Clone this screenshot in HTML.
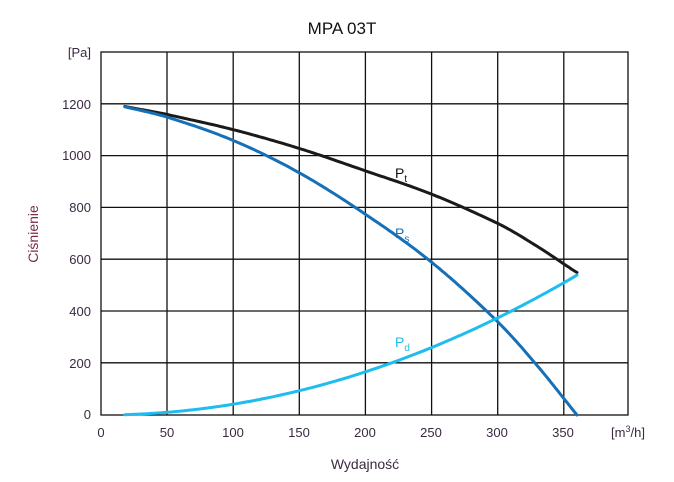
<!DOCTYPE html><html><head><meta charset="utf-8"><style>body{margin:0;background:#fff}svg{display:block}text{font-family:"Liberation Sans",sans-serif}</style></head><body>
<svg width="674" height="482" viewBox="0 0 674 482" xmlns="http://www.w3.org/2000/svg">
<rect width="674" height="482" fill="#fff"/>
<text x="342" y="34" font-size="17" text-anchor="middle" fill="#111">MPA 03T</text>
<g stroke="#111" stroke-width="1.3" fill="none">
<rect x="101" y="52" width="527" height="363"/>
<path d="M167 52V415M233.2 52V415M299.3 52V415M365.4 52V415M431.6 52V415M497.7 52V415M563.8 52V415"/>
<path d="M101 103.8H628M101 155.6H628M101 207.4H628M101 259.2H628M101 311H628M101 362.8H628"/>
</g>
<g font-size="13" fill="#3a2a40" text-anchor="end">
<text x="91" y="57">[Pa]</text>
<text x="91" y="109">1200</text><text x="91" y="160">1000</text><text x="91" y="212">800</text>
<text x="91" y="264">600</text><text x="91" y="316">400</text><text x="91" y="368">200</text><text x="91" y="419">0</text>
</g>
<g font-size="13" fill="#3a2a40" text-anchor="middle">
<text x="101" y="437">0</text><text x="167" y="437">50</text><text x="233" y="437">100</text><text x="299" y="437">150</text>
<text x="365" y="437">200</text><text x="431" y="437">250</text><text x="497" y="437">300</text><text x="563" y="437">350</text>
<text x="628" y="437">[m<tspan font-size="9" dy="-5">3</tspan><tspan dy="5">/h]</tspan></text>
<text x="365" y="469" font-size="14">Wydajność</text>
</g>
<text transform="translate(38,234) rotate(-90)" font-size="14" fill="#7a2a4a" text-anchor="middle">Ciśnienie</text>
<g fill="none" stroke-width="3" stroke-linecap="round">
<path id="pt" stroke="#1a1a1a"/>
<path id="ps" stroke="#1570b8"/>
<path id="pd" stroke="#1fbcf0"/>
</g>
<text x="395" y="178" font-size="14" fill="#111">P<tspan font-size="10" dy="4">t</tspan></text>
<text x="395" y="238" font-size="14" fill="#1570b8">P<tspan font-size="10" dy="4">s</tspan></text>
<text x="395" y="347" font-size="14" fill="#1fbcf0">P<tspan font-size="10" dy="4">d</tspan></text>
</svg>
<script>
function X(q){return 101+1.3222*q}function Y(p){return 415-0.259*p}
var qs=[18,50,100,150,200,250,300,330,360];
var ps=[1190,1150,1060,935,775,590,360,190,0];
function psf(q){for(var i=0;i<qs.length-1;i++){if(q<=qs[i+1]){var t=(q-qs[i])/(qs[i+1]-qs[i]);
var p0=ps[Math.max(i-1,0)],p1=ps[i],p2=ps[i+1],p3=ps[Math.min(i+2,ps.length-1)];
var h=qs[i+1]-qs[i];var m1=(p2-p0)/((qs[i+1]-qs[Math.max(i-1,0)])||1)*h,m2=(p3-p1)/((qs[Math.min(i+2,ps.length-1)]-qs[i])||1)*h;
var t2=t*t,t3=t2*t;return (2*t3-3*t2+1)*p1+(t3-2*t2+t)*m1+(-2*t3+3*t2)*p2+(t3-t2)*m2;}}return 0}
function pdf(q){return 540*(q/360)*(q/360)}
function build(f){var d="";for(var q=18;q<=360;q+=2){d+=(q==18?"M":"L")+X(q).toFixed(1)+" "+Y(f(q)).toFixed(1)}return d}
document.getElementById('ps').setAttribute('d',build(psf));
document.getElementById('pd').setAttribute('d',build(pdf));
document.getElementById('pt').setAttribute('d',build(function(q){var r=q/360;return psf(q)+pdf(q)+10*r*r*r*r}));
</script>
</body></html>
